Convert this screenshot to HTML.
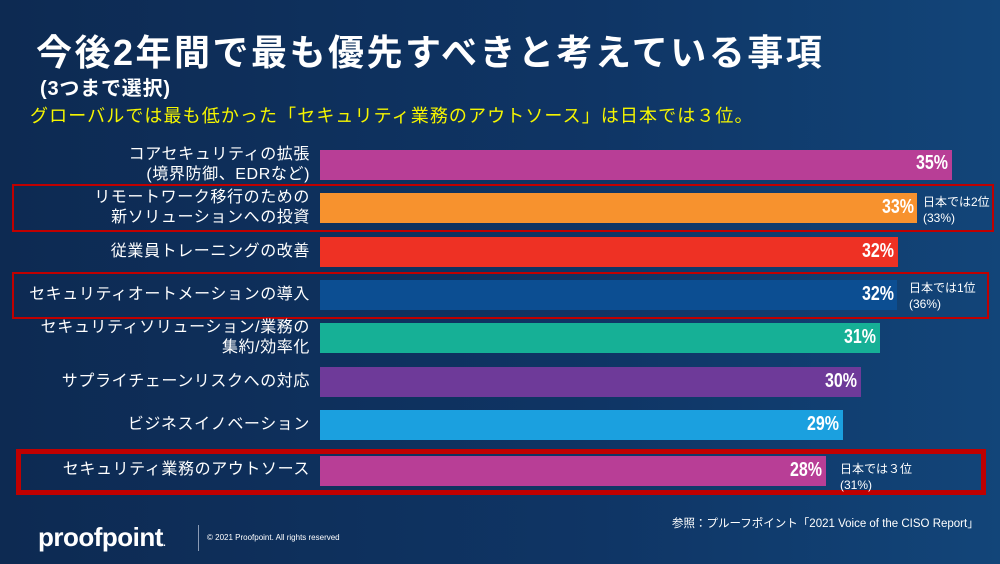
<!DOCTYPE html>
<html><head><meta charset="utf-8"><style>
body{margin:0;width:1000px;height:564px;overflow:hidden;font-family:"Liberation Sans","Noto Sans CJK JP",sans-serif;}
#bg{position:absolute;left:0;top:0;width:1000px;height:564px;background:linear-gradient(90deg,#0d2a52 0%,#0f3565 60%,#124579 100%);}
.t{position:absolute;color:#fff;white-space:nowrap;}
.bar{position:absolute;left:320px;height:30px;}
.lab{position:absolute;right:690px;color:#fff;font-size:16px;letter-spacing:0.6px;text-align:right;line-height:20px;white-space:nowrap;}
.pct{position:absolute;color:#fff;font-weight:bold;font-size:20px;font-family:"Liberation Sans Narrow","Liberation Sans",sans-serif;transform:scaleX(0.8);transform-origin:right center;}
.note{position:absolute;color:#fff;font-size:12px;line-height:16px;white-space:nowrap;}
.box{position:absolute;border:2px solid #c00000;box-sizing:border-box;}
</style></head><body>
<div id="bg"></div>
<div class="t" style="left:36px;top:24px;font-size:36px;letter-spacing:2.5px;font-weight:bold;">今後2年間で最も優先すべきと考えている事項</div>
<div class="t" style="left:40px;top:72px;font-size:20px;letter-spacing:0.8px;font-weight:bold;">(3つまで選択)</div>
<div class="t" style="left:30px;top:102px;font-size:18px;letter-spacing:1.1px;color:#f5f500;">グローバルでは最も低かった「セキュリティ業務のアウトソース」は日本では３位。</div>

<div class="box" style="left:12px;top:184px;width:982px;height:48px;"></div>
<div class="box" style="left:12px;top:272px;width:977px;height:47px;"></div>
<div class="box" style="left:16px;top:449px;width:970px;height:46px;border-width:5px;"></div>

<div class="bar" style="top:150px;width:632px;background:#b83e96"></div>
<div class="bar" style="top:193px;width:597px;background:#f7922e"></div>
<div class="bar" style="top:237px;width:578px;background:#ee3124"></div>
<div class="bar" style="top:280px;width:577px;background:#0c4e92"></div>
<div class="bar" style="top:323px;width:560px;background:#16b096"></div>
<div class="bar" style="top:367px;width:541px;background:#6e3a99"></div>
<div class="bar" style="top:410px;width:523px;background:#1ba0df"></div>
<div class="bar" style="top:456px;width:506px;background:#b83e96"></div>

<div class="pct" style="right:52px;top:152px">35%</div>
<div class="pct" style="right:86px;top:196px">33%</div>
<div class="pct" style="right:106px;top:240px">32%</div>
<div class="pct" style="right:106px;top:283px">32%</div>
<div class="pct" style="right:124px;top:326px">31%</div>
<div class="pct" style="right:143px;top:370px">30%</div>
<div class="pct" style="right:161px;top:413px">29%</div>
<div class="pct" style="right:178px;top:459px">28%</div>

<div class="lab" style="top:145px">コアセキュリティの拡張<br>(境界防御、EDRなど)</div>
<div class="lab" style="top:188px">リモートワーク移行のための<br>新ソリューションへの投資</div>
<div class="lab" style="top:242px">従業員トレーニングの改善</div>
<div class="lab" style="top:285px">セキュリティオートメーションの導入</div>
<div class="lab" style="top:318px">セキュリティソリューション/業務の<br>集約/効率化</div>
<div class="lab" style="top:372px">サプライチェーンリスクへの対応</div>
<div class="lab" style="top:415px">ビジネスイノベーション</div>
<div class="lab" style="top:460px">セキュリティ業務のアウトソース</div>

<div class="note" style="left:923px;top:194px">日本では2位<br>(33%)</div>
<div class="note" style="left:909px;top:280px">日本では1位<br>(36%)</div>
<div class="note" style="left:840px;top:461px">日本では３位<br>(31%)</div>

<div class="t" style="left:38px;top:522px;font-size:26px;font-weight:bold;letter-spacing:-0.5px;">proofpoint<span style="font-size:10px">.</span></div>
<div style="position:absolute;left:198px;top:525px;width:1px;height:26px;background:#8a9bb5"></div>
<div class="t" style="left:207px;top:533px;font-size:8px;">© 2021 Proofpoint. All rights reserved</div>
<div class="t" style="left:672px;top:515px;font-size:11.5px;">参照：プルーフポイント「2021 Voice of the CISO Report」</div>
</body></html>
